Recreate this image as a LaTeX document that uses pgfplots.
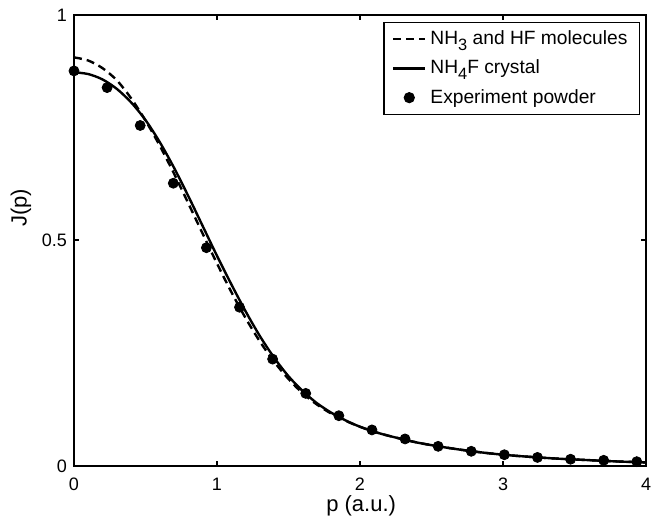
\documentclass[border=0pt]{standalone}
\usepackage{fontspec}
\setmainfont{Liberation Sans}
\usepackage{pgfplots}
\pgfplotsset{compat=1.18}
\newcommand{\sub}[1]{\raisebox{-0.55ex}{\fontsize{8.2}{9}\selectfont #1}}
\begin{document}
\begin{tikzpicture}
\begin{axis}[
  scale only axis,
  width=286pt, height=225.5pt,
  xmin=0, xmax=4, ymin=0, ymax=1,
  xtick={0,1,2,3,4}, ytick={0,0.5,1},
  clip=false,
  tick align=inside,
  major tick length=2.5pt,
  axis line style={line width=1.2pt},
  every tick/.style={black, line width=1pt},
  /pgf/number format/assume math mode=true,
  tick label style={font=\fontsize{9}{10}\selectfont},
  xticklabel style={yshift=-2.5pt},
  yticklabel style={/pgf/number format/fixed},
  xlabel={p (a.u.)},
  ylabel={J(p)},
  label style={font=\fontsize{11}{13}\selectfont},
  xlabel style={at={(axis description cs:0.502,-0.088)}, anchor=center},
  ylabel style={at={(axis description cs:-0.0927,0.572)}, anchor=center},
  legend cell align=left,
  legend style={at={(axis description cs:0.9895,0.9845)}, anchor=north east,
    draw=black, line width=0.6pt, row sep=2.2pt, inner ysep=2pt, inner xsep=4pt,
    font=\fontsize{9.6}{11}\selectfont},
]
% NH3 and HF molecules
\addplot[black, line width=1.2pt, dash pattern=on 4pt off 2.5pt, smooth,
  legend image code/.code={\draw[black, line width=1.2pt, dash pattern=on 4pt off 2.5pt] (0pt,0pt) -- (16pt,0pt);}]
  coordinates {
  (0,0.906)(0.1,0.899)(0.2,0.882)(0.3,0.855)(0.4,0.815)(0.5,0.766)
  (0.6,0.710)(0.7,0.648)(0.8,0.582)(0.9,0.515)(1.0,0.449)(1.1,0.386)
  (1.2,0.328)(1.3,0.276)(1.4,0.231)(1.5,0.193)(1.6,0.161)(1.7,0.136)
  (1.8,0.116)(1.9,0.100)(2.0,0.087)(2.1,0.076)(2.2,0.067)(2.4,0.052)
  (2.6,0.041)(2.8,0.032)(3.0,0.025)(3.2,0.020)(3.4,0.016)(3.6,0.013)
  (3.8,0.010)(4.0,0.008)
};
% NH4F crystal
\addplot[black, line width=1.2pt, smooth,
  legend image code/.code={\draw[black, line width=1.2pt] (0pt,0pt) -- (16pt,0pt);}]
  coordinates {
  (0,0.873)(0.1,0.869)(0.2,0.857)(0.3,0.836)(0.4,0.806)(0.5,0.767)
  (0.6,0.718)(0.7,0.661)(0.8,0.598)(0.9,0.532)(1.0,0.466)(1.1,0.403)
  (1.2,0.343)(1.3,0.288)(1.4,0.240)(1.5,0.199)(1.6,0.166)(1.7,0.139)
  (1.8,0.118)(1.9,0.101)(2.0,0.087)(2.1,0.076)(2.2,0.067)(2.4,0.052)
  (2.6,0.041)(2.8,0.032)(3.0,0.025)(3.2,0.020)(3.4,0.016)(3.6,0.013)
  (3.8,0.010)(4.0,0.008)
};
% experiment
\addplot[only marks, mark=*, mark size=2.5pt, black,
  legend image code/.code={\fill[black] (8pt,0pt) circle (2.5pt);}]
  coordinates {
  (0,0.876)(0.2315,0.839)(0.463,0.755)(0.6945,0.627)(0.926,0.484)
  (1.1575,0.352)(1.389,0.237)(1.6205,0.161)(1.852,0.1115)(2.0835,0.080)
  (2.315,0.060)(2.5465,0.0436)(2.778,0.0326)(3.0095,0.025)(3.241,0.019)
  (3.4725,0.015)(3.704,0.0126)(3.9355,0.0096)
};
\legend{NH\sub{3} and HF molecules, NH\sub{4}F crystal, Experiment powder}
\coordinate (bl) at (rel axis cs:0,0);
\end{axis}
\pgfresetboundingbox
\useasboundingbox (bl) ++(-37pt,-25.5pt) rectangle ++(328.5pt,258.5pt);
\end{tikzpicture}
\end{document}
